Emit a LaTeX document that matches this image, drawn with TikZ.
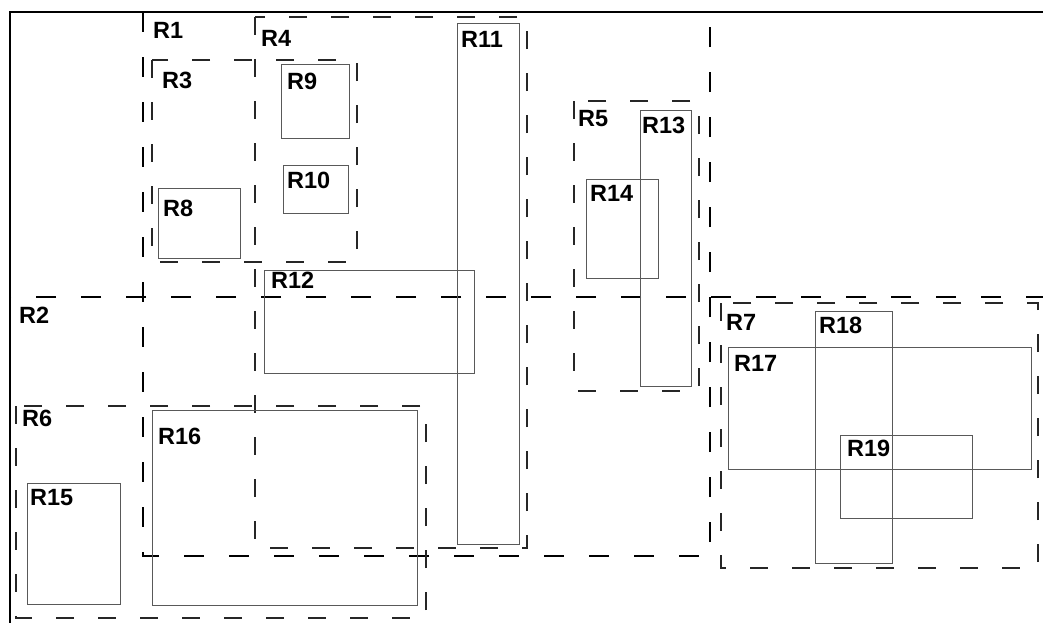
\documentclass[tikz,border=0pt]{standalone}
\usepackage{fontspec}
\setmainfont{Liberation Sans}
\begin{document}
\begin{tikzpicture}[x=1pt,y=-1pt,
  frame/.style={line width=2.2pt,black},
  toplevel/.style={line width=1.8pt,black,dash pattern=on 20pt off 25pt},
  midlevel/.style={line width=1.5pt,black!85,dash pattern=on 18pt off 24pt},
  leaf/.style={line width=1pt,black!65},
  lbl/.style={anchor=north west,inner sep=0pt,font=\fontsize{23.5}{28}\selectfont\bfseries}]
\useasboundingbox (0,0) rectangle (1043,622);
\fill[white] (0,0) rectangle (1043,622);
\clip (0,0) rectangle (1043,622);
% outer frame
\draw[frame] (10,640) -- (10,12) -- (1060,12);
% level 1
\draw[toplevel] (143,12) rectangle (710,556);
\draw[toplevel] (10,297) rectangle (1050,630);
% level 2
\draw[midlevel] (152,60) rectangle (357,262);
\draw[midlevel] (255,17) rectangle (527,548);
\draw[midlevel] (574,101) rectangle (699,391);
\draw[midlevel] (16,406) rectangle (426,618);
\draw[midlevel] (721,303) rectangle (1038,568);
% leaves
\draw[leaf] (158,188) rectangle (240,258);
\draw[leaf] (281,64) rectangle (349,138);
\draw[leaf] (283,165) rectangle (348,213);
\draw[leaf] (457,23) rectangle (519,544);
\draw[leaf] (264,270) rectangle (474,373);
\draw[leaf] (640,110) rectangle (691,386);
\draw[leaf] (586,179) rectangle (658,278);
\draw[leaf] (27,483) rectangle (120,604);
\draw[leaf] (152,410) rectangle (417,605);
\draw[leaf] (728,347) rectangle (1031,469);
\draw[leaf] (815,311) rectangle (892,563);
\draw[leaf] (840,435) rectangle (972,518);
% labels
\node[lbl] (l1) at (153,22) {R1};
\node[lbl] (l2) at (19,307) {R2};
\node[lbl] (l3) at (162,72) {R3};
\node[lbl] (l4) at (261,30) {R4};
\node[lbl] (l5) at (578,110) {R5};
\node[lbl] (l6) at (22,410) {R6};
\node[lbl] (l7) at (726,314) {R7};
\node[lbl] (l8) at (163,200) {R8};
\node[lbl] (l9) at (287,73) {R9};
\node[lbl] (l10) at (287,172) {R10};
\node[lbl] (l11) at (461,31) {R11};
\node[lbl] (l12) at (271,272) {R12};
\node[lbl] (l13) at (642,117) {R13};
\node[lbl] (l14) at (590,185) {R14};
\node[lbl] (l15) at (30,489) {R15};
\node[lbl] (l16) at (158,428) {R16};
\node[lbl] (l17) at (734,355) {R17};
\node[lbl] (l18) at (819,317) {R18};
\node[lbl] (l19) at (847,440) {R19};
\end{tikzpicture}
\end{document}
